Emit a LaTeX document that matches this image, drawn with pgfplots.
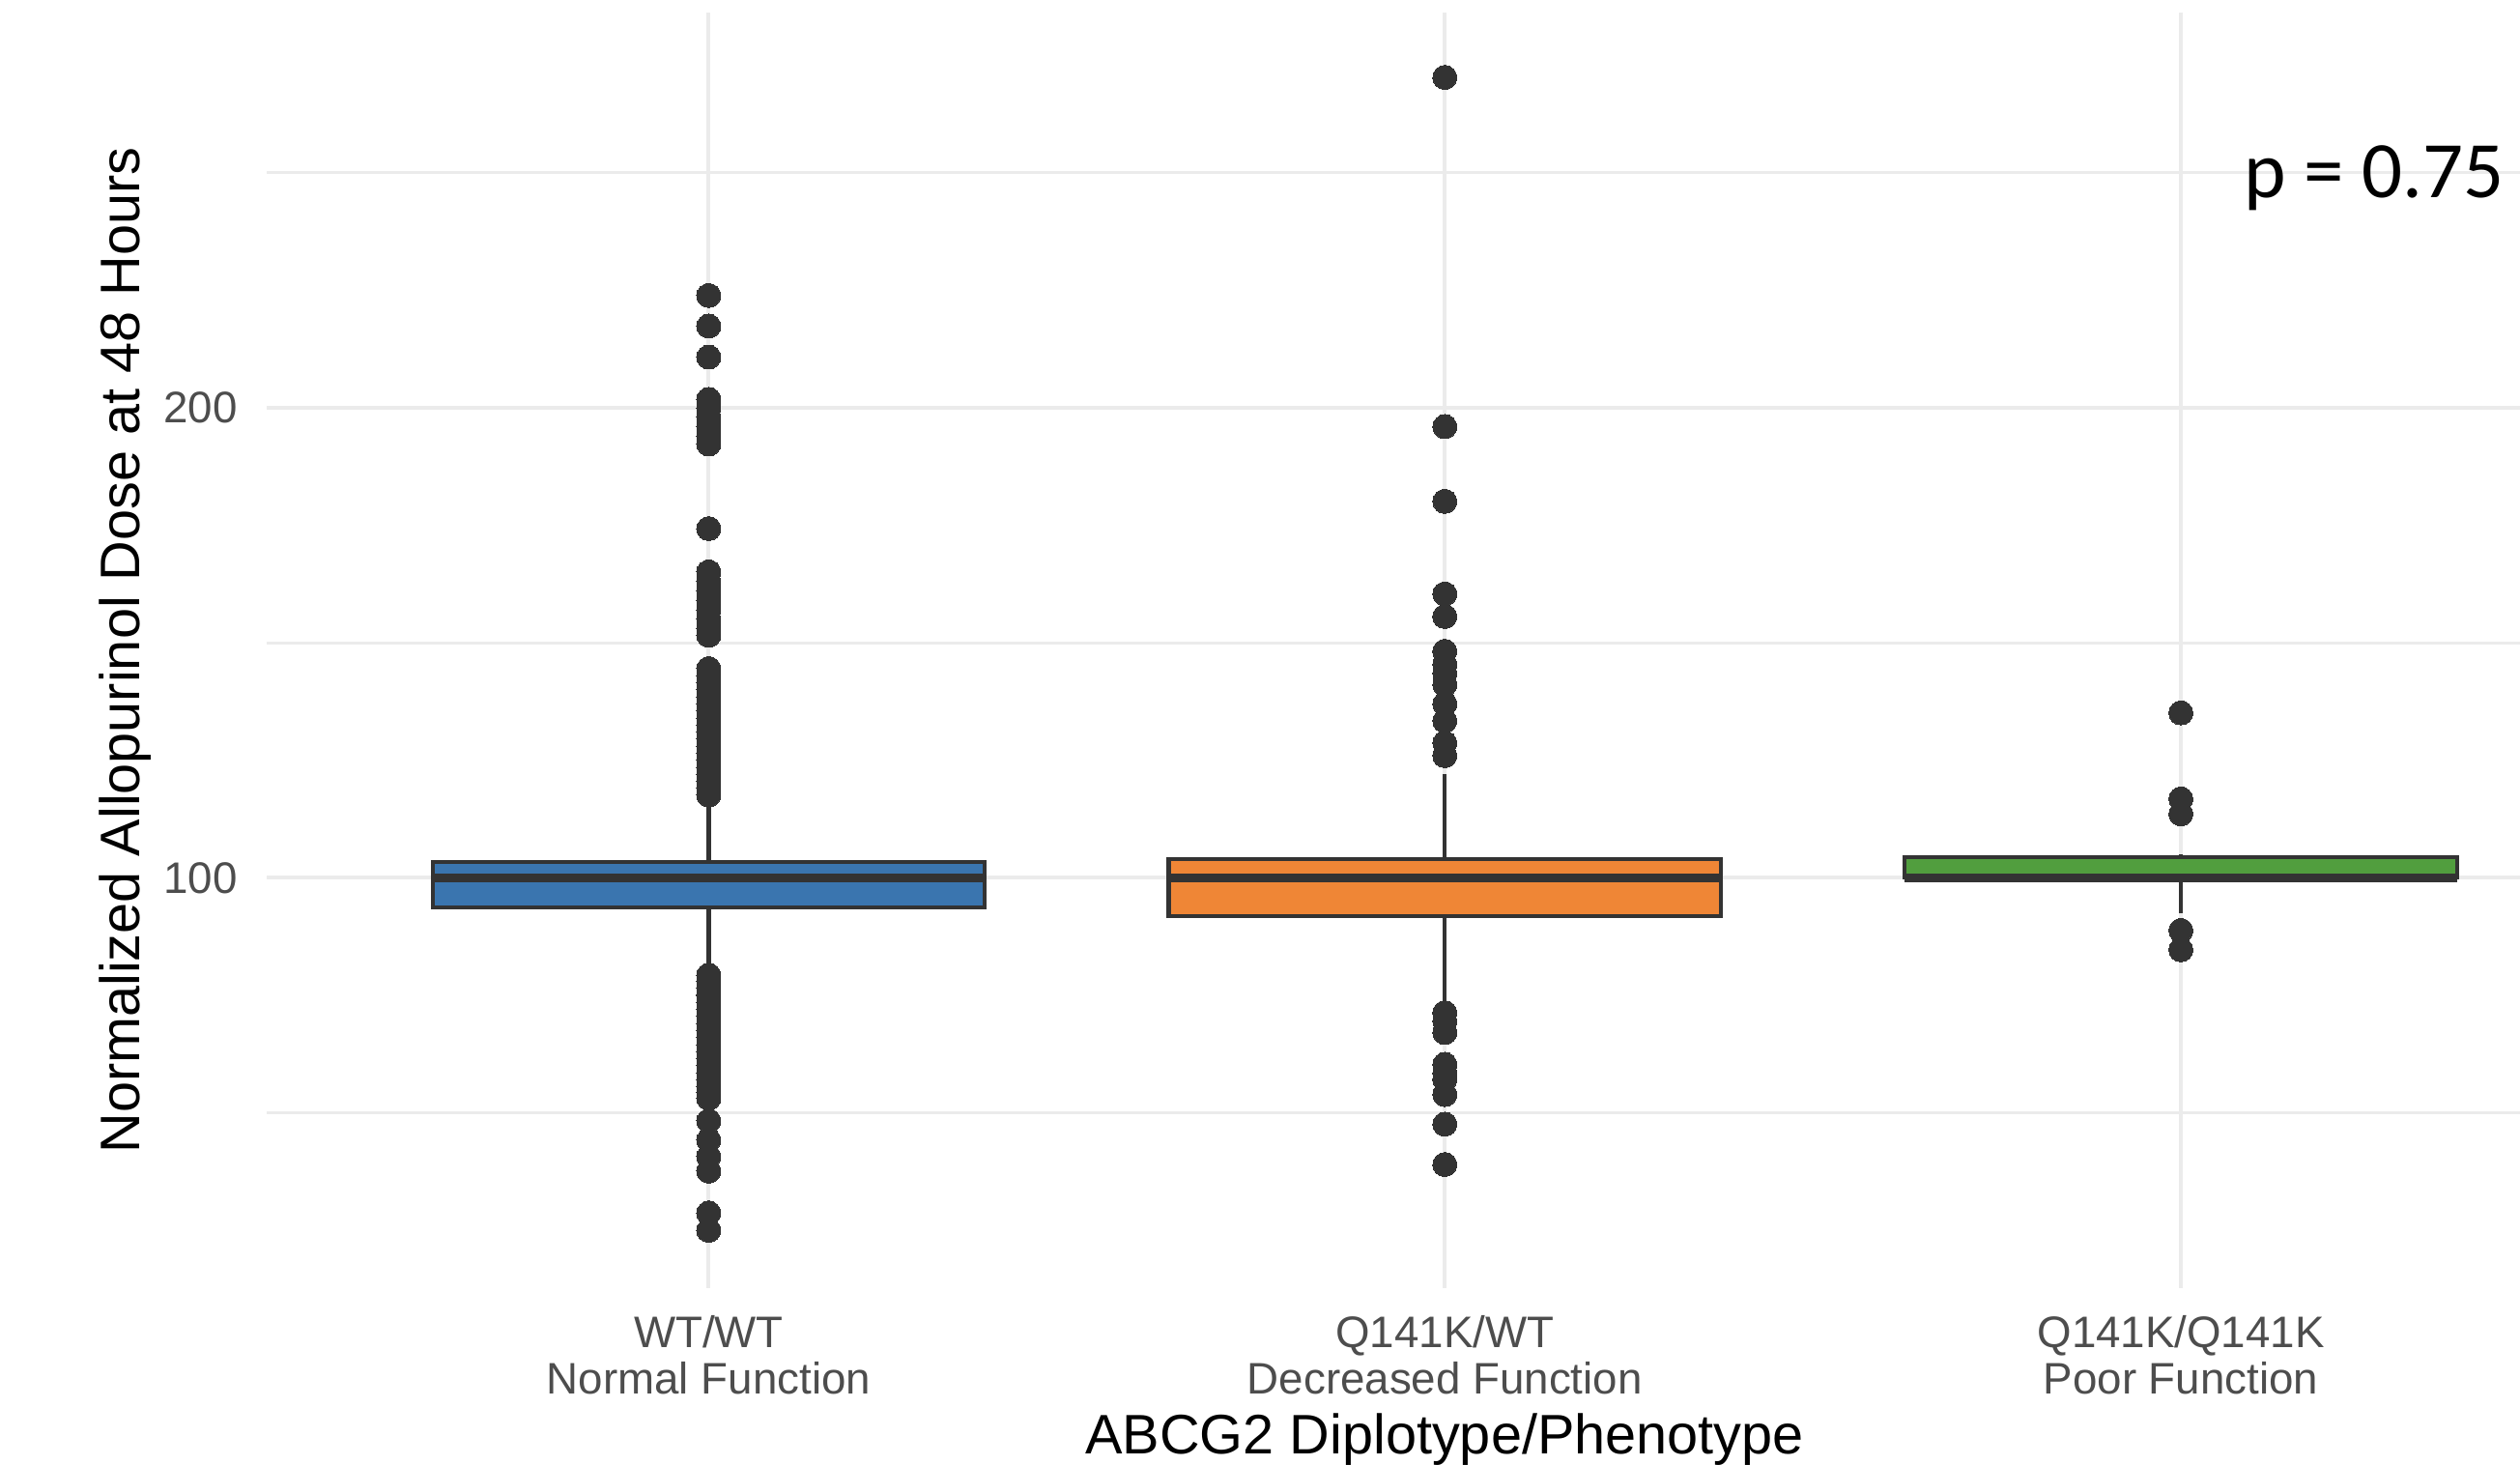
\documentclass[border=0pt]{standalone}
\usepackage{fontspec}
\setmainfont{Liberation Sans}
\newfontfamily\pfont{Carlito}
\usepackage{pgfplots}
\pgfplotsset{compat=1.18}
\definecolor{cblue}{HTML}{3A75AF}
\definecolor{corange}{HTML}{EF8636}
\definecolor{cgreen}{HTML}{519E3E}
\definecolor{cdark}{HTML}{333333}
\definecolor{cgrid}{HTML}{EBEBEB}
\definecolor{ctick}{HTML}{4D4D4D}
\begin{document}
\begin{tikzpicture}
\clip (-27.64mm,-18.3mm) rectangle (233.16mm,133.3mm);
\begin{axis}[
  scale only axis, width=233.16mm, height=132mm,
  xmin=0.4, xmax=3.4607, ymin=12.7, ymax=284.1,
  clip=false,
  /pgf/number format/assume math mode=true,
  axis line style={draw=none},
  tick style={draw=none},
  xtick={1,2,3},
  xticklabels={{WT/WT\\Normal Function},{Q141K/WT\\Decreased Function},{Q141K/Q141K\\Poor Function}},
  ytick={100,200},
  minor ytick={50,150,250},
  xmajorgrids, ymajorgrids, yminorgrids,
  major grid style={color=cgrid, line width=1.15pt},
  minor grid style={color=cgrid, line width=0.85pt},
  every tick label/.append style={inner sep=0pt, font=\fontsize{13pt}{13.66pt}\selectfont, text=ctick},
  yticklabel style={anchor=east, xshift=-3.0mm},
  xticklabel style={anchor=north, yshift=-2.8mm, align=center},
  xlabel={ABCG2 Diplotype/Phenotype},
  ylabel={Normalized Allopurinol Dose at 48 Hours},
  every axis x label/.style={at={(axis description cs:0.5227,-0.1303)}, anchor=base, inner sep=0pt, font=\fontsize{16.4pt}{19pt}\selectfont},
  every axis y label/.style={at={(axis description cs:-0.0567,0.5)}, rotate=90, anchor=base, inner sep=0pt, font=\fontsize{16.4pt}{19pt}\selectfont},
]
% whiskers
\addplot[cdark, line width=1.25pt, mark=none] coordinates {(1,80) (1,116.5)};
\addplot[cdark, line width=1.25pt, mark=none] coordinates {(2,73.6) (2,122)};
\addplot[cdark, line width=1.25pt, mark=none] coordinates {(3,92.4) (3,105)};
% boxes (Q1, Q3)
\addplot[fill=cblue, draw=cdark, line width=1.2pt, mark=none] coordinates {(0.625,93.7) (1.375,93.7) (1.375,103.3) (0.625,103.3)} -- cycle;
\addplot[fill=corange, draw=cdark, line width=1.2pt, mark=none] coordinates {(1.625,91.8) (2.375,91.8) (2.375,104.0) (1.625,104.0)} -- cycle;
\addplot[fill=cgreen, draw=cdark, line width=1.2pt, mark=none] coordinates {(2.625,100) (3.375,100) (3.375,104.4) (2.625,104.4)} -- cycle;
% medians
\addplot[cdark, line width=2.6pt, mark=none] coordinates {(0.625,100) (1.375,100)};
\addplot[cdark, line width=2.6pt, mark=none] coordinates {(1.625,100) (2.375,100)};
\addplot[cdark, line width=2.6pt, mark=none] coordinates {(2.625,100) (3.375,100)};
% outliers
\addplot[only marks, mark=*, mark size=3.55pt, mark options={draw=cdark, fill=cdark, line width=0pt}] coordinates {
 (1,223.9) (1,217.4) (1,210.8)
 (1,201.8) (1,200) (1,198) (1,196) (1,194) (1,192.3)
 (1,174.3)
 (1,165.1) (1,163) (1,161) (1,159) (1,157) (1,155) (1,153) (1,151.6)
 (1,144.5) (1,143) (1,141.5) (1,140) (1,138.5) (1,137) (1,135.5) (1,134) (1,132.5) (1,131) (1,129.5) (1,128) (1,126.5) (1,125) (1,123.5) (1,122) (1,120.5) (1,119) (1,117.6)
 (1,79.3) (1,78) (1,76.5) (1,75) (1,73.5) (1,72) (1,70.5) (1,69) (1,67.5) (1,66) (1,64.5) (1,63) (1,61.5) (1,60) (1,58.5) (1,57) (1,55.5) (1,54.4)
 (1,53.1) (1,48.3) (1,44.2) (1,40.7) (1,37.6) (1,28.7) (1,25.0)
 (2,270.3) (2,196.0) (2,180.1) (2,160.4) (2,155.6)
 (2,148.2) (2,145.4) (2,143.5) (2,141.1) (2,137.0) (2,133.4) (2,128.7) (2,126.0)
 (2,71.3) (2,69.5) (2,67.1) (2,60.3) (2,58.5) (2,57.1) (2,53.9) (2,47.6) (2,39.0)
 (3,135.1) (3,116.8) (3,113.6) (3,88.8) (3,84.7)
};
\node[anchor=base west, inner sep=0pt, font=\pfont\fontsize{23.6pt}{28pt}\selectfont] at (axis cs:3.085,244.7) {p = 0.75};
\end{axis}
\end{tikzpicture}
\end{document}
